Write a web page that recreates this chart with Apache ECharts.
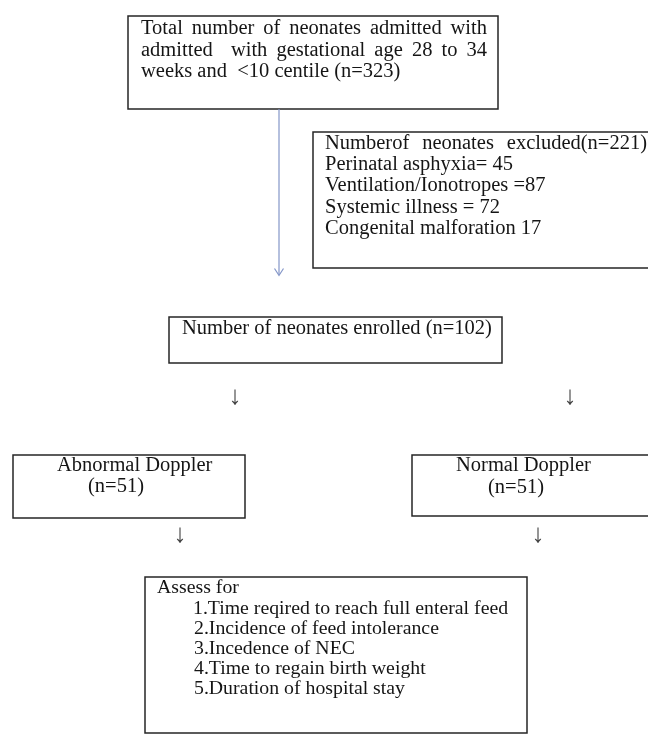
<!DOCTYPE html>
<html>
<head>
    <meta charset="UTF-8"/>
    <title>Flow of neonates</title>
    <style>
        html, body { margin: 0; padding: 0; background: #fff; }
        #flowChart { width: 648px; height: 734px; }
    </style>
</head>
<body>
<div id="flowChart"></div>
<script src="https://cdn.jsdelivr.net/npm/echarts@6/dist/echarts.min.js" type="text/javascript"></script>
<script type="text/javascript">
    // 各框文字
    const admittedLines = [
        "Total number of neonates admitted with",
        "admitted  with gestational age 28 to 34",
        "weeks and  <10 centile (n=323)"
    ];
    const excludedLines = [
        "Numberof neonates excluded(n=221)",
        "Perinatal asphyxia= 45",
        "Ventilation/Ionotropes =87",
        "Systemic illness = 72",
        "Congenital malforation 17"
    ];
    const enrolledLines = ["Number of neonates enrolled (n=102)"];
    const abnormalLines = ["Abnormal Doppler", "(n=51)"];
    const normalLines = ["Normal Doppler", "(n=51)"];
    const assessLines = [
        "Assess for",
        "1.Time reqired to reach full enteral feed",
        "2.Incidence of feed intolerance",
        "3.Incedence of NEC",
        "4.Time to regain birth weight",
        "5.Duration of hospital stay"
    ];

    // 布局 (像素)
    const FONT_FAMILY = '"Liberation Serif", "Times New Roman", serif';
    const layout = [
        {lines: admittedLines, box: [128, 16, 370, 93], size: 20.5,
            xs: [141, 141, 141], ys: [28.5, 50.5, 71.5], justify: [487, 487, 0]},
        {lines: excludedLines, box: [313, 132, 360, 136], size: 20.5,
            xs: [325, 325, 325, 325, 325], ys: [143.5, 164.5, 186, 207.5, 229], justify: [647, 0, 0, 0, 0]},
        {lines: enrolledLines, box: [169, 317, 333, 46], size: 20.5,
            xs: [182], ys: [328.5], justify: [0]},
        {lines: abnormalLines, box: [13, 455, 232, 63], size: 20.5,
            xs: [57, 88], ys: [465.5, 486.5], justify: [0, 0]},
        {lines: normalLines, box: [412, 455, 260, 61], size: 20.5,
            xs: [456, 488], ys: [465.5, 487.5], justify: [0, 0]},
        {lines: assessLines, box: [145, 577, 382, 156], size: 19.8,
            xs: [157, 193, 194, 194, 194, 194], ys: [587.5, 608.5, 629, 649, 669, 689], justify: [0, 0, 0, 0, 0, 0]}
    ];
    const downArrows = [[235, 397], [570, 397], [180, 535], [538, 535]];

    const ctx = document.createElement("canvas").getContext("2d");
    function textWidth(t, size) {
        ctx.font = size + "px " + FONT_FAMILY;
        return ctx.measureText(t).width;
    }
    function textEl(t, x, y, size) {
        return {
            type: "text", x: x, y: y, silent: true,
            style: {text: t, fontFamily: FONT_FAMILY, fontSize: size, fill: "#151515", verticalAlign: "middle"}
        };
    }
    // 两端对齐
    function lineEls(t, x0, x1, y, size) {
        if (!x1) return [textEl(t, x0, y, size)];
        const words = t.split(" ");
        const used = words.reduce(function (s, w) { return s + textWidth(w, size); }, 0);
        const gap = (x1 - x0 - used) / (words.length - 1);
        const out = [];
        let x = x0;
        words.forEach(function (w) {
            if (w) out.push(textEl(w, x, y, size));
            x += textWidth(w, size) + gap;
        });
        return out;
    }

    const elements = [];
    layout.forEach(function (b) {
        elements.push({
            type: "rect", silent: true,
            shape: {x: b.box[0], y: b.box[1], width: b.box[2], height: b.box[3]},
            style: {fill: "#fff", stroke: "#262626", lineWidth: 1.5}
        });
        b.lines.forEach(function (t, i) {
            lineEls(t, b.xs[i], b.justify[i], b.ys[i], b.size).forEach(function (e) { elements.push(e); });
        });
    });
    // 蓝色箭头
    elements.push({
        type: "polyline", silent: true, shape: {points: [[279, 109], [279, 275]]},
        style: {stroke: "#8496c8", lineWidth: 1.2}
    });
    elements.push({
        type: "polyline", silent: true, shape: {points: [[274.5, 268.5], [279, 275.5], [283.5, 268.5]]},
        style: {stroke: "#8496c8", lineWidth: 1.2, fill: null}
    });
    downArrows.forEach(function (p) {
        elements.push({
            type: "text", x: p[0], y: p[1], silent: true,
            style: {text: "↓", fontFamily: FONT_FAMILY, fontSize: 26, fill: "#444", align: "center", verticalAlign: "middle"}
        });
    });

    const flowChart = echarts.init(document.getElementById("flowChart"));
    flowChart.setOption({
        animation: false,
        backgroundColor: "#fff",
        graphic: {elements: elements}
    });
</script>
</body>
</html>
